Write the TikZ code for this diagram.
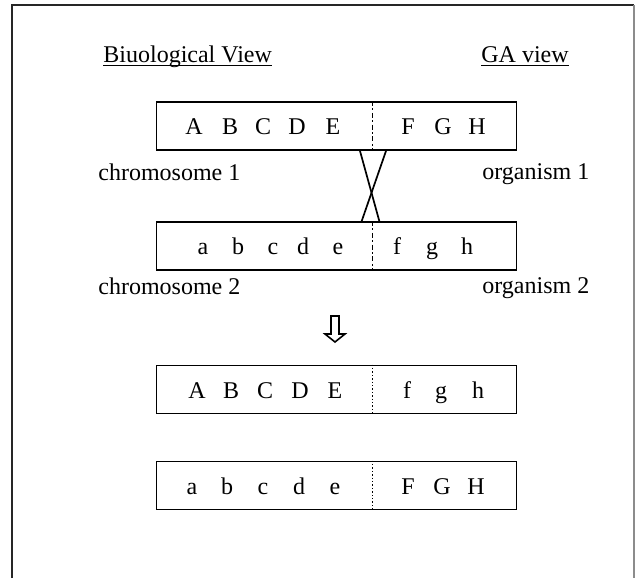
\documentclass[tikz,border=0pt]{standalone}
\usepackage{fontspec}
\setmainfont{Liberation Serif}
\usepackage{tikz}
\usetikzlibrary{calc}

\tikzset{
  chrom/.style={draw,line width=0.95pt,minimum width=180pt,minimum height=24pt,inner sep=0pt},
  gene/.style={anchor=base,inner sep=0pt,font=\fontsize{12}{14}\selectfont},
  label/.style={anchor=base west,inner sep=0pt,font=\fontsize{12}{14}\selectfont},
  cut/.style={line width=0.9pt,dash pattern=on 2.5pt off 1.2pt on 1pt off 1.2pt},
  splice/.style={line width=0.7pt,densely dotted},
}

\begin{document}
\begin{tikzpicture}[x=0.5pt,y=-0.5pt]
  \useasboundingbox (0,0) rectangle (636,578);
  \pgfmathsetmacro{\cx}{336.5}\pgfmathsetmacro{\sh}{8.5}
  \pgfmathsetmacro{\ya}{126}\pgfmathsetmacro{\yb}{246}
  \pgfmathsetmacro{\yc}{389.5}\pgfmathsetmacro{\yd}{485.5}

  % ---- frame, open at the bottom -----------------------------------------
  \draw[black!85,line width=1pt] (12,578) -- (12,5) -- (634,5);
  \draw[black!45,line width=0.6pt] (634,5) -- (634,578);

  % ---- headings -------------------------------------------------------
  \node[label] (bio) at (103,62) {Biuological View};
  \node[label] (ga)  at (481,62) {GA view};
  \draw[line width=0.75pt] ($(bio.base west)+(0,3.5)$) -- ($(bio.base east)+(0,3.5)$);
  \draw[line width=0.75pt] ($(ga.base west)+(0,3.5)$)  -- ($(ga.base east)+(0,3.5)$);

  % ---- parents --------------------------------------------------------
  \node[chrom] (chromA) at (\cx,\ya) {};
  \node[chrom] (chromB) at (\cx,\yb) {};
  \draw[cut] ($(chromA.north)+(36,0)$) -- ($(chromA.south)+(36,0)$);
  \draw[cut] ($(chromB.north)+(36,0)$) -- ($(chromB.south)+(36,0)$);
  \foreach \g/\px in {A/194,B/230,C/263,D/297,E/333,F/408,G/443,H/477}
    \node[gene] (pa\g) at (\px,\ya+\sh) {\g};
  \foreach \g/\px in {a/203,b/238,c/273,d/303,e/338,f/397,g/432,h/467}
    \node[gene] (pb\g) at (\px,\yb+\sh) {\g};

  \node[label] (chrom1) at (98,180)  {chromosome 1};
  \node[label] (chrom2) at (98,294)  {chromosome 2};
  \node[label] (org1)   at (482,179) {organism 1};
  \node[label] (org2)   at (482,293) {organism 2};

  % crossover between the two cut points
  \draw[line width=0.85pt] ($(chromA.south)+(23.5,0)$) -- ($(chromB.north)+(42.8,0)$);
  \draw[line width=0.85pt] ($(chromA.south)+(49.5,0)$) -- ($(chromB.north)+(25.2,0)$);

  % ---- hollow arrow down ----------------------------------------------
  \draw[line width=0.8pt,line join=miter]
        (331,316) -- (339,316) -- (339,334) -- (345,334) -- (335,342)
        -- (325,334) -- (331,334) -- cycle;

  % ---- offspring ------------------------------------------------------
  \node[chrom] (childA) at (\cx,\yc) {};
  \node[chrom] (childB) at (\cx,\yd) {};
  \draw[splice] ($(childA.north)+(36,0)$) -- ($(childA.south)+(36,0)$);
  \draw[splice] ($(childB.north)+(36,0)$) -- ($(childB.south)+(36,0)$);
  \foreach \g/\px in {A/197,B/231,C/265,D/300,E/335,f/407,g/441,h/478}
    \node[gene] (ca\g) at (\px,\yc+\sh) {\g};
  \foreach \g/\px in {a/192,b/227,c/263,d/299,e/335,F/408,G/442,H/476}
    \node[gene] (cb\g) at (\px,\yd+\sh) {\g};
\end{tikzpicture}
\end{document}
